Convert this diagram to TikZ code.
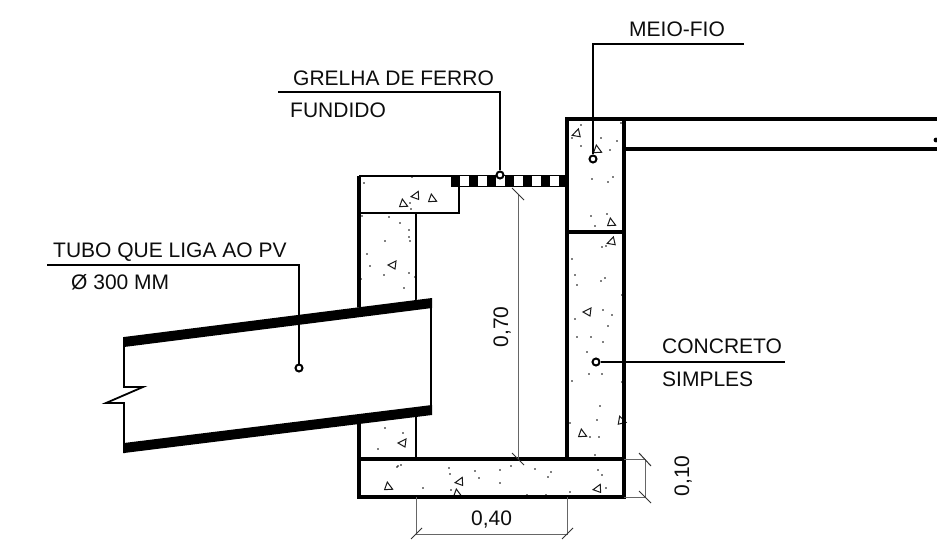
\documentclass[tikz,border=0pt]{standalone}
\usepackage{fontspec}
\setmainfont{Liberation Sans}
\begin{document}
\begin{tikzpicture}[x=1pt,y=-1pt,
  wall/.style={line width=3.5pt,line join=miter,line cap=butt},
  thinwall/.style={line width=2.7pt,line join=miter},
  leader/.style={line width=1.5pt,color=black},
  dimline/.style={line width=1pt,color=black!60},
  ticks/.style={line width=1pt,color=black!80},
  lab/.style={inner sep=0pt,anchor=base west,font=\fontsize{21}{25}\selectfont,text=black!95},
  rotlab/.style={inner sep=0pt,anchor=base,rotate=90,font=\fontsize{21}{25}\selectfont,text=black!95},
  pin/.style={circle,draw,line width=2pt,inner sep=0pt,minimum size=7pt,fill=white},
  speck/.style={black},
  aggr/.style={line width=1pt,color=black!90}]
\useasboundingbox (0,0) rectangle (937,540);
\fill[white] (0,0) rectangle (937,540);
% aggregate
\foreach \x/\y in {364/183,412/177,410/203,411/209,362/216,389/217,400/223,409/230,409/237,410/241,385/241,360/248,367/254,370/266,384/275,409/273,415/277,404/288,361/279,
 581/125,572/138,581/146,601/138,617/141,610/150,592/179,608/182,613/177,591/216,607/214,595/226,
 602/247,606/246,572/259,575/275,577/285,601/281,605/278,622/295,603/310,612/315,608/326,575/319,577/337,591/337,603/342,587/352,589/374,602/374,572/381,622/382,600/406,597/420,570/423,590/437,599/437,595/455,571/458,
 385/428,403/433,378/449,398/466,401/465,397/467,449/468,450/474,475/471,479/478,500/470,511/466,500/483,423/488,451/490,535/469,551/472,548/477,598/470,602/475,606/488,570/492,527/495,546/495,
 621/123}
  {\fill[speck] (\x,\y) circle (0.95pt);}
\foreach \x/\y/\a in {576/134/20,597/149/-80,611/222/-80,611/242/20,415/196/10,432/198/-80,403/203/-80,392/265/0,587/312/0,621/420/-70,582/433/-80,402/443/0,388/486/-80,459/482/10,457/493/-80,597/489/10}
  {\draw[aggr,rotate around={\a:(\x,\y)}] (\x-4,\y) -- (\x+4,\y-4) -- (\x+3,\y+4) -- cycle;}
% concrete outlines
\draw[wall] (567,232) -- (567,459);
\draw[wall] (624,232) -- (624,459);
\draw[wall] (624,119) -- (567,119) -- (567,232) -- (624,232);
\draw[wall] (624,119) -- (624,232);
\draw[wall] (359,459) rectangle (624,497);
\draw[wall] (359,176) -- (359,459);
\draw[thinwall] (359,176) -- (451,176);
\draw[thinwall] (416,213) -- (416,459);
\draw[thinwall] (359,213) -- (459,213) -- (459,187);
% road
\draw[wall] (624,119) -- (937,119);
\draw[wall] (624,149) -- (937,149);
\fill (936,140) circle (2.4pt);
% grate
\draw[line width=1pt] (451,176) -- (567,176) (451,187) -- (567,187);
\foreach \x in {451,469,487,505,523,541,559}
  {\fill (\x,175.5) rectangle (\x+9,187.5);}
% pipe
\fill[white] (124,337) -- (432,298) -- (432,414) -- (124,453) -- cycle;
\fill (124,337) -- (432,298) -- (432,308) -- (124,347) -- cycle;
\fill (124,443) -- (432,405) -- (432,415) -- (124,453) -- cycle;
\draw[line width=2pt] (431,298) -- (431,414);
\draw[line width=1.8pt,line join=miter] (124,337) -- (124,387) -- (143,387) -- (106,403) -- (124,403) -- (124,453);
% dimensions
\coordinate (d70a) at (518,194);
\coordinate (d70b) at (518,459);
\draw[dimline] (d70a) -- (d70b);
\draw[ticks] (512,188) -- (524,200) (512,453) -- (524,465);
\coordinate (d40a) at (416,497);
\coordinate (d40b) at (416,534);
\coordinate (d40c) at (567,534);
\coordinate (d40d) at (567,497);
\draw[dimline] (d40a) -- (d40b) -- (d40c) -- (d40d);
\draw[ticks] (411,539) -- (422,528) (562,539) -- (573,528);
\coordinate (d10a) at (624,459);
\coordinate (d10b) at (645,459);
\coordinate (d10c) at (645,497);
\coordinate (d10d) at (624,497);
\draw[dimline] (d10a) -- (d10b) -- (d10c) -- (d10d);
\draw[ticks] (639,453) -- (651,466) (639,491) -- (651,503);
\node[rotlab] (t70) at (508,327) {0,70};
\node[lab] (t40) at (471,525) {0,40};
\node[rotlab] (t10) at (689,476) {0,10};
% labels
\node[lab] (tmeio) at (629,37) {MEIO-FIO};
\node[lab] (tgrelha) at (293,86) {GRELHA DE FERRO};
\node[lab] (tfund) at (290,118) {FUNDIDO};
\node[lab] (ttubo) at (53,258) {TUBO QUE LIGA AO PV};
\node[lab] (tphi) at (71,289) {Ø 300 MM};
\node[lab] (tconc) at (662,353) {CONCRETO};
\node[lab] (tsimp) at (662,386) {SIMPLES};
% leaders
\node[pin] (pmeio) at (593,159) {};
\node[pin] (pgrelha) at (500,175) {};
\node[pin] (ptubo) at (299,368) {};
\node[pin] (pconc) at (596,362) {};
\coordinate (lmeioa) at (744,44);
\coordinate (lmeiob) at (593,44);
\coordinate (lgrelhaa) at (278,92);
\coordinate (lgrelhab) at (500,92);
\coordinate (ltuboa) at (47,265);
\coordinate (ltubob) at (299,265);
\coordinate (lconc) at (785,362);
\draw[leader] (lmeioa) -- (lmeiob) -- (pmeio);
\draw[leader] (lgrelhaa) -- (lgrelhab) -- (pgrelha);
\draw[leader] (ltuboa) -- (ltubob) -- (ptubo);
\draw[leader] (pconc) -- (lconc);
\end{tikzpicture}
\end{document}
